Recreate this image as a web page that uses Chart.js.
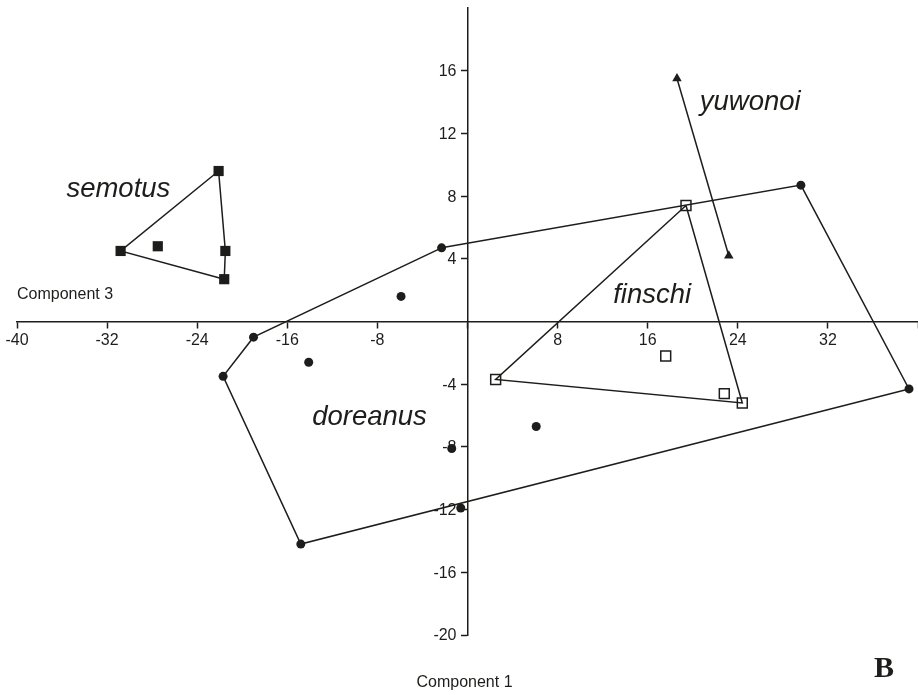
<!DOCTYPE html>
<html>
<head>
<meta charset="utf-8">
<script src="https://cdn.jsdelivr.net/npm/chart.js@4/dist/chart.umd.min.js"></script>
<style>
  html, body { margin: 0; padding: 0; background: #fff; }
  #wrap { width: 918px; height: 695px; position: relative; }
</style>
</head>
<body>
<div id="wrap"><canvas id="pcaChart"></canvas></div>
<script>
// values (Component 1 vs Component 3)
const doreanusX = [-2.3, 29.6, 39.2, -14.8, -21.7, -19.0, -5.9, -14.1, 6.1, -1.4, -0.6];
const doreanusY = [4.7, 8.7, -4.3, -14.2, -3.5, -1.0, 1.6, -2.6, -6.7, -8.1, -11.9];
const doreanusHull = [0, 1, 2, 3, 4, 5, 0];

const finschiX = [19.4, 24.4, 2.5, 17.6, 22.8];
const finschiY = [7.4, -5.2, -3.7, -2.2, -4.6];
const finschiHull = [0, 1, 2, 0];

const semotusX = [-22.1, -21.5, -21.6, -30.8, -27.5];
const semotusY = [9.6, 4.5, 2.7, 4.5, 4.8];
const semotusHull = [0, 1, 2, 3, 0];

const yuwonoiX = [18.6, 23.2];
const yuwonoiY = [15.5, 4.2];
const yuwonoiHull = [0, 1];

const xTicks = [-40, -32, -24, -16, -8, 0, 8, 16, 24, 32, 40];
const yTicks = [-20, -16, -12, -8, -4, 0, 4, 8, 12, 16, 20];

const speciesNames = ['doreanus', 'finschi', 'semotus', 'yuwonoi'];

const INK = '#1d1d1b';

function pts(xs, ys) {
    return xs.map((x, i) => ({ x: x, y: ys[i] }));
}
function hull(xs, ys, order) {
    return order.map(i => ({ x: xs[i], y: ys[i] }));
}

// where the species names sit (data units)
const nameSpots = {
    doreanus: [-8.7, -6.1],
    finschi: [16.4, 1.7],
    semotus: [-31.0, 8.4],
    yuwonoi: [25.1, 14.0]
};

const lineDefaults = {
    type: 'line',
    showLine: true,
    borderColor: INK,
    borderWidth: 1.5,
    pointRadius: 0,
    fill: false,
    tension: 0
};

const textPlugin = {
    id: 'textPlugin',
    afterDraw(chart) {
        const ctx = chart.ctx;
        const xs = chart.scales.x, ys = chart.scales.y;
        const x0 = xs.getPixelForValue(0);
        ctx.save();
        ctx.fillStyle = INK;
        // y tick labels, right aligned left of the axis
        ctx.font = '16px "Liberation Sans", Arial, sans-serif';
        ctx.textAlign = 'right';
        ctx.textBaseline = 'middle';
        yTicks.forEach(v => {
            if (v === 0 || v === 20) return;
            ctx.fillText(String(v), x0 - 11, ys.getPixelForValue(v) + 1);
        });
        // species names
        ctx.font = 'italic 27.5px "Liberation Sans", Arial, sans-serif';
        ctx.textAlign = 'center';
        speciesNames.forEach(n => {
            const p = nameSpots[n];
            ctx.fillText(n, xs.getPixelForValue(p[0]), ys.getPixelForValue(p[1]));
        });
        // axis titles
        ctx.font = '16px "Liberation Sans", Arial, sans-serif';
        ctx.textAlign = 'left';
        ctx.fillText('Component 3', chart.chartArea.left, ys.getPixelForValue(0) - 27);
        ctx.textAlign = 'center';
        ctx.fillText('Component 1', x0 - 3, 683);
        // panel letter
        ctx.font = 'bold 30px "Liberation Serif", "Times New Roman", serif';
        ctx.fillText('B', 884, 669);
        ctx.restore();
    }
};

// centre axes should not eat into the plot area
function noBox(s) {
    if (s.isHorizontal()) s.height = 0; else s.width = 0;
    s.paddingLeft = 0;
    s.paddingRight = 0;
    s.paddingTop = 0;
    s.paddingBottom = 0;
}

new Chart(document.getElementById('pcaChart'), {
    type: 'scatter',
    data: {
        datasets: [
            Object.assign({ label: 'doreanus hull', data: hull(doreanusX, doreanusY, doreanusHull) }, lineDefaults),
            Object.assign({ label: 'finschi hull', data: hull(finschiX, finschiY, finschiHull) }, lineDefaults),
            Object.assign({ label: 'semotus hull', data: hull(semotusX, semotusY, semotusHull) }, lineDefaults),
            Object.assign({ label: 'yuwonoi line', data: hull(yuwonoiX, yuwonoiY, yuwonoiHull) }, lineDefaults),
            {
                label: 'doreanus',
                data: pts(doreanusX, doreanusY),
                pointStyle: 'circle',
                pointRadius: 4.5,
                backgroundColor: INK,
                borderColor: INK,
                borderWidth: 0
            },
            {
                label: 'finschi',
                data: pts(finschiX, finschiY),
                pointStyle: 'rect',
                pointRadius: 7,
                backgroundColor: 'rgba(255,255,255,0)',
                borderColor: INK,
                borderWidth: 1.5
            },
            {
                label: 'semotus',
                data: pts(semotusX, semotusY),
                pointStyle: 'rect',
                pointRadius: 7.2,
                backgroundColor: INK,
                borderColor: INK,
                borderWidth: 0
            },
            {
                label: 'yuwonoi',
                data: pts(yuwonoiX, yuwonoiY),
                pointStyle: 'triangle',
                pointRadius: 5.5,
                backgroundColor: INK,
                borderColor: INK,
                borderWidth: 0
            }
        ]
    },
    options: {
        responsive: true,
        maintainAspectRatio: false,
        animation: false,
        layout: { autoPadding: false, padding: { left: 17, right: 0, top: 8, bottom: 60 } },
        plugins: {
            legend: { display: false },
            tooltip: { enabled: false }
        },
        scales: {
            x: {
                type: 'linear',
                min: -40,
                max: 40,
                position: { y: 0 },
                afterFit: noBox,
                afterBuildTicks: s => { s.ticks = xTicks.map(v => ({ value: v })); },
                border: { display: true, color: INK, width: 1.5 },
                grid: {
                    display: true,
                    drawOnChartArea: false,
                    drawTicks: true,
                    tickLength: 6,
                    tickWidth: 1.5,
                    tickColor: INK
                },
                ticks: {
                    color: INK,
                    padding: 3,
                    maxRotation: 0,
                    autoSkip: false,
                    font: { family: '"Liberation Sans", Arial, sans-serif', size: 16 },
                    callback: v => (v === 0 || v === 40 ? '' : String(v))
                }
            },
            y: {
                type: 'linear',
                min: -20,
                max: 20,
                position: { x: 0 },
                afterFit: noBox,
                afterBuildTicks: s => { s.ticks = yTicks.map(v => ({ value: v })); },
                border: { display: true, color: INK, width: 1.5 },
                grid: {
                    display: true,
                    drawOnChartArea: false,
                    drawTicks: true,
                    tickLength: 6,
                    tickWidth: 1.5,
                    tickColor: c => (c.tick && (c.tick.value === 20 || c.tick.value === 0) ? 'rgba(0,0,0,0)' : INK)
                },
                ticks: { display: false }
            }
        }
    },
    plugins: [textPlugin]
});
</script>
</body>
</html>
